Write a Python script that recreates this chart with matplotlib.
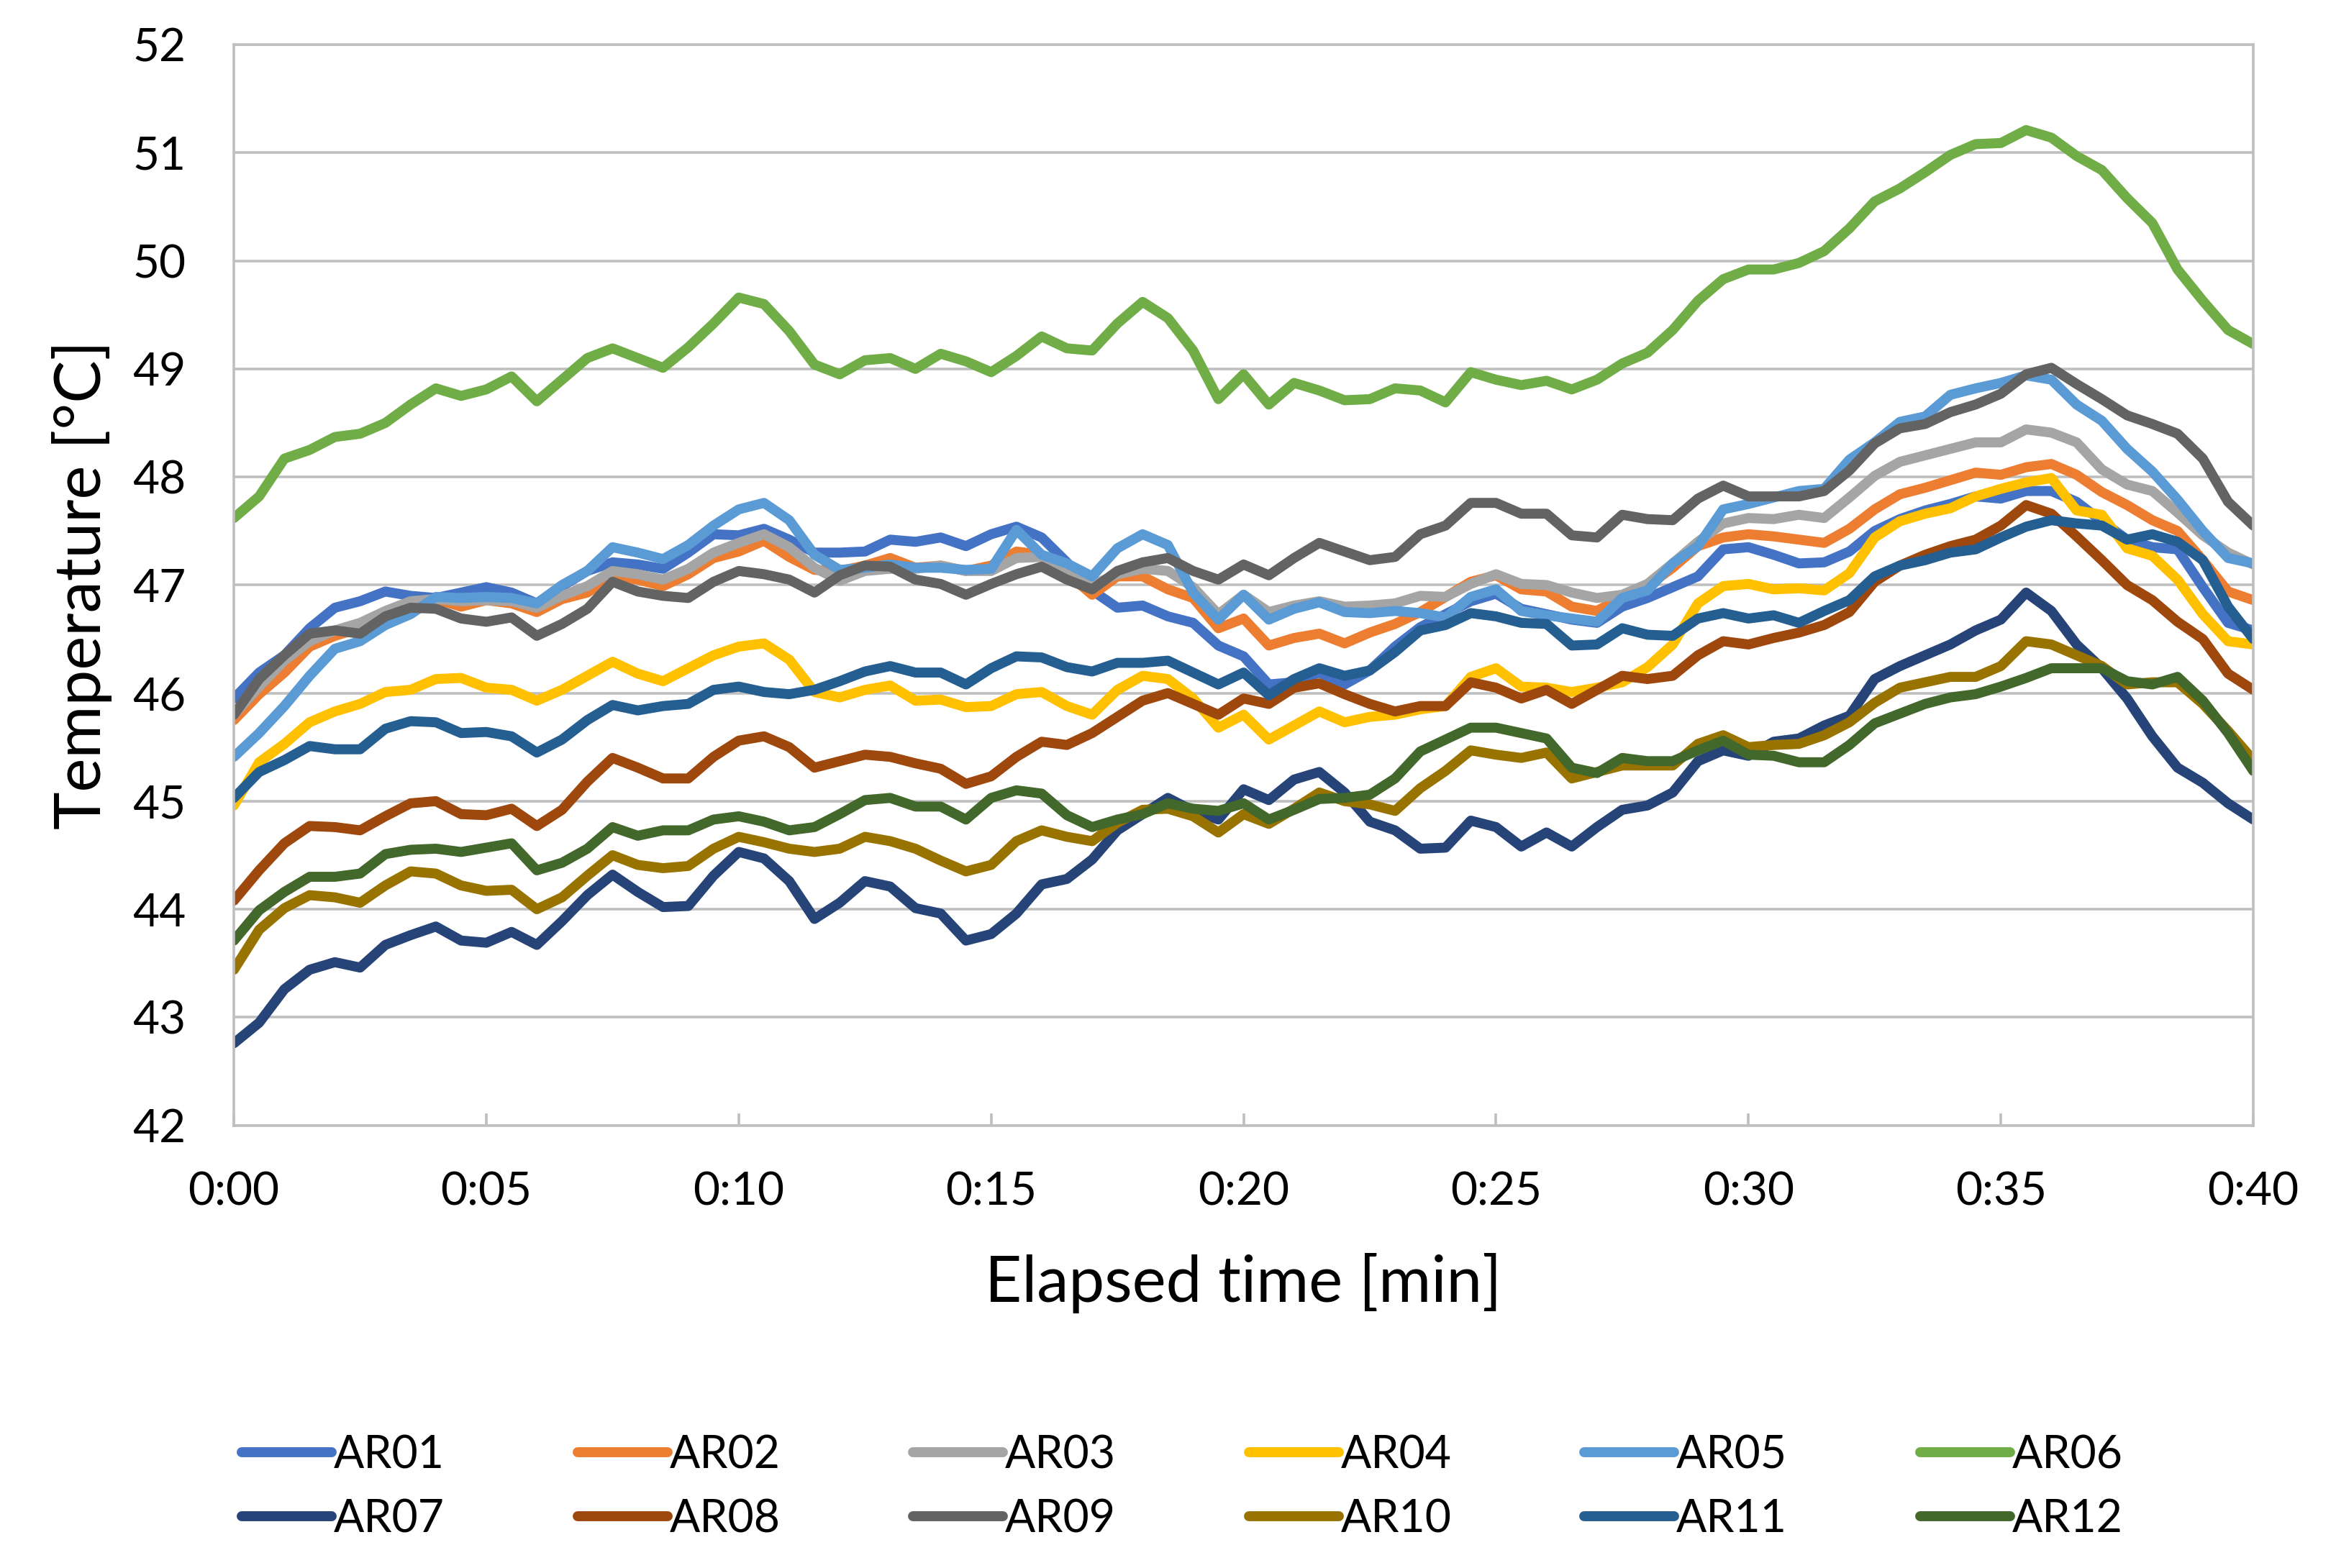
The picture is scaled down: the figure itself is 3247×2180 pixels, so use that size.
import numpy as np
import matplotlib
matplotlib.use("Agg")
import matplotlib.pyplot as plt

plt.rcParams['font.family'] = ['Lato', 'DejaVu Sans']

# temperatures read every 0.5 min from 0:00 to 0:40
ar01 = [45.95, 46.19, 46.35, 46.6, 46.79, 46.85, 46.94, 46.9, 46.88, 46.93,
        46.98, 46.93, 46.83, 46.99, 47.13, 47.21, 47.19, 47.15, 47.3, 47.47,
        47.46, 47.52, 47.42, 47.3, 47.3, 47.31, 47.42, 47.4, 47.44, 47.36,
        47.47, 47.54, 47.44, 47.21, 46.95, 46.79, 46.81, 46.71, 46.65, 46.44,
        46.34, 46.08, 46.1, 46.19, 46.08, 46.21, 46.43, 46.61, 46.73, 46.85,
        46.92, 46.78, 46.73, 46.68, 46.65, 46.8, 46.88, 46.98, 47.08, 47.33,
        47.35, 47.28, 47.2, 47.21, 47.31, 47.5, 47.61, 47.69, 47.75, 47.82,
        47.8, 47.87, 47.87, 47.77, 47.59, 47.42, 47.35, 47.33, 46.98, 46.65,
        46.58]
ar02 = [45.75, 45.99, 46.19, 46.43, 46.53, 46.6, 46.73, 46.83, 46.87, 46.8,
        46.86, 46.83, 46.75, 46.87, 46.93, 47.08, 47.05, 46.99, 47.1, 47.25,
        47.31, 47.41, 47.26, 47.14, 47.13, 47.18, 47.25, 47.16, 47.18, 47.13,
        47.18, 47.31, 47.28, 47.11, 46.91, 47.08, 47.08, 46.96, 46.88, 46.6,
        46.69, 46.44, 46.51, 46.55, 46.46, 46.56, 46.64, 46.75, 46.89, 47.03,
        47.09, 46.96, 46.94, 46.8, 46.76, 46.89, 46.99, 47.16, 47.36, 47.44,
        47.47, 47.45, 47.42, 47.39, 47.52, 47.7, 47.84, 47.9, 47.97, 48.04,
        48.02, 48.09, 48.12, 48.02, 47.86, 47.74, 47.6, 47.5, 47.23, 46.94,
        46.86]
ar03 = [45.8, 46.06, 46.3, 46.48, 46.58, 46.65, 46.76, 46.85, 46.87, 46.85,
        46.86, 46.85, 46.79, 46.9, 46.99, 47.13, 47.1, 47.05, 47.15, 47.3,
        47.39, 47.47, 47.35, 47.16, 47.04, 47.13, 47.15, 47.15, 47.18, 47.13,
        47.13, 47.25, 47.26, 47.11, 47.0, 47.1, 47.15, 47.13, 46.98, 46.73,
        46.91, 46.75, 46.81, 46.85, 46.8, 46.81, 46.83, 46.9, 46.89, 47.01,
        47.1, 47.01, 47.0, 46.93, 46.88, 46.91, 47.01, 47.2, 47.4, 47.57,
        47.62, 47.61, 47.65, 47.62, 47.81, 48.01, 48.14, 48.2, 48.26, 48.32,
        48.32, 48.44, 48.41, 48.32, 48.07, 47.93, 47.87, 47.67, 47.46, 47.3,
        47.19]
ar04 = [44.96, 45.36, 45.53, 45.73, 45.83, 45.9, 46.01, 46.03, 46.13, 46.14,
        46.05, 46.03, 45.93, 46.03, 46.16, 46.29, 46.18, 46.11, 46.23, 46.35,
        46.43, 46.46, 46.31, 46.01, 45.96, 46.03, 46.07, 45.93, 45.94, 45.87,
        45.88, 45.99, 46.01, 45.88, 45.8, 46.03, 46.16, 46.13, 45.95, 45.68,
        45.8, 45.57, 45.7, 45.83, 45.73, 45.78, 45.8, 45.85, 45.88, 46.15,
        46.23, 46.06, 46.05, 46.01, 46.05, 46.1, 46.24, 46.45, 46.83, 46.99,
        47.01, 46.96, 46.97, 46.95, 47.11, 47.44, 47.59, 47.66, 47.71, 47.82,
        47.89, 47.95, 47.99, 47.69, 47.65, 47.34, 47.27, 47.05, 46.73, 46.48,
        46.45]
ar05 = [45.41, 45.63, 45.88, 46.16, 46.41, 46.48, 46.63, 46.73, 46.89, 46.88,
        46.89, 46.88, 46.83, 47.0, 47.13, 47.35, 47.3, 47.24, 47.37, 47.55,
        47.7, 47.76, 47.6, 47.28, 47.14, 47.16, 47.19, 47.16, 47.16, 47.14,
        47.15, 47.51, 47.28, 47.2, 47.08, 47.34, 47.47, 47.37, 46.93, 46.68,
        46.91, 46.68, 46.78, 46.84, 46.75, 46.74, 46.76, 46.74, 46.7, 46.89,
        46.96, 46.76, 46.72, 46.69, 46.66, 46.88, 46.95, 47.2, 47.36, 47.7,
        47.75, 47.81, 47.87, 47.89, 48.16, 48.32, 48.51, 48.56, 48.76, 48.82,
        48.87, 48.94, 48.9, 48.67, 48.52, 48.26, 48.05, 47.79, 47.5, 47.25,
        47.2]
ar06 = [47.62, 47.82, 48.17, 48.25, 48.37, 48.4, 48.5, 48.67, 48.82, 48.75,
        48.81, 48.93, 48.7, 48.9, 49.1, 49.19, 49.1, 49.01, 49.2, 49.42,
        49.66, 49.6, 49.35, 49.04, 48.95, 49.08, 49.1, 49.0, 49.14, 49.07,
        48.97, 49.12, 49.3, 49.19, 49.17, 49.42, 49.62, 49.47, 49.17, 48.72,
        48.95, 48.67, 48.87, 48.8, 48.71, 48.72, 48.82, 48.8, 48.69, 48.97,
        48.9, 48.85, 48.89, 48.81, 48.9, 49.05, 49.15, 49.36, 49.63, 49.83,
        49.92, 49.92, 49.98, 50.09, 50.3, 50.55, 50.67, 50.82, 50.98, 51.08,
        51.09, 51.21, 51.14, 50.97, 50.84, 50.58, 50.35, 49.92, 49.63, 49.36,
        49.23]
ar07 = [42.76, 42.95, 43.26, 43.44, 43.51, 43.46, 43.67, 43.76, 43.84, 43.71,
        43.69, 43.79, 43.67, 43.89, 44.13, 44.32, 44.16, 44.02, 44.03, 44.31,
        44.53, 44.47, 44.26, 43.91, 44.06, 44.26, 44.21, 44.01, 43.96, 43.71,
        43.77, 43.96, 44.23, 44.28, 44.46, 44.73, 44.88, 45.03, 44.91, 44.83,
        45.11, 45.01, 45.2, 45.27, 45.08, 44.81, 44.73, 44.56, 44.57, 44.82,
        44.76, 44.58, 44.71, 44.58, 44.76, 44.92, 44.96, 45.08, 45.37, 45.47,
        45.42, 45.55, 45.58, 45.7, 45.79, 46.13, 46.25, 46.35, 46.45, 46.58,
        46.68, 46.93, 46.76, 46.45, 46.23, 45.95, 45.6, 45.31, 45.17, 44.98,
        44.83]
ar08 = [44.08, 44.36, 44.61, 44.77, 44.76, 44.73, 44.86, 44.98, 45.0, 44.88,
        44.87, 44.93, 44.77, 44.92, 45.18, 45.4, 45.31, 45.21, 45.21, 45.41,
        45.56, 45.6, 45.5, 45.31, 45.37, 45.43, 45.41, 45.35, 45.3, 45.16,
        45.23, 45.41, 45.55, 45.52, 45.63, 45.78, 45.93, 46.0, 45.9, 45.8,
        45.95, 45.9, 46.05, 46.09, 45.99, 45.9, 45.83, 45.88, 45.88, 46.1,
        46.05, 45.95, 46.03, 45.9, 46.03, 46.16, 46.13, 46.16, 46.35, 46.48,
        46.45, 46.51, 46.56, 46.63, 46.75, 47.03, 47.18, 47.28, 47.36, 47.42,
        47.55, 47.74, 47.66, 47.45, 47.23, 47.0, 46.86, 46.66, 46.5, 46.18,
        46.03]
ar09 = [45.8, 46.13, 46.35, 46.55, 46.58, 46.55, 46.71, 46.79, 46.78, 46.69,
        46.66, 46.7, 46.53, 46.64, 46.78, 47.03, 46.94, 46.9, 46.88, 47.03,
        47.13, 47.1, 47.05, 46.93, 47.09, 47.18, 47.17, 47.05, 47.01, 46.91,
        47.01, 47.1, 47.17, 47.05, 46.96, 47.13, 47.21, 47.25, 47.13, 47.05,
        47.19, 47.09, 47.25, 47.39, 47.31, 47.23, 47.26, 47.47, 47.55, 47.76,
        47.76, 47.66, 47.66, 47.46, 47.44, 47.65, 47.61, 47.6, 47.8, 47.92,
        47.82, 47.82, 47.82, 47.87, 48.06, 48.31, 48.45, 48.49, 48.6, 48.67,
        48.77, 48.95, 49.01, 48.86, 48.72, 48.57, 48.49, 48.4, 48.17, 47.77,
        47.55]
ar10 = [43.44, 43.81, 44.01, 44.13, 44.11, 44.06, 44.22, 44.35, 44.33, 44.22,
        44.17, 44.18, 44.0, 44.11, 44.31, 44.5, 44.41, 44.38, 44.4, 44.56,
        44.67, 44.62, 44.56, 44.53, 44.56, 44.67, 44.63, 44.56, 44.45, 44.35,
        44.41, 44.63, 44.73, 44.67, 44.63, 44.8, 44.92, 44.93, 44.86, 44.71,
        44.88, 44.79, 44.93, 45.08, 45.0, 44.97, 44.91, 45.12, 45.28, 45.47,
        45.43, 45.4, 45.45, 45.21, 45.27, 45.33, 45.33, 45.33, 45.53, 45.61,
        45.5, 45.52, 45.53, 45.61, 45.73, 45.91, 46.05, 46.1, 46.15, 46.15,
        46.25, 46.48, 46.45, 46.35, 46.25, 46.08, 46.1, 46.1, 45.9, 45.65,
        45.38]
ar11 = [45.03, 45.27, 45.38, 45.51, 45.48, 45.48, 45.67, 45.74, 45.73, 45.63,
        45.64, 45.6, 45.45, 45.57, 45.75, 45.89, 45.84, 45.88, 45.9, 46.03,
        46.06, 46.01, 45.99, 46.03, 46.11, 46.2, 46.25, 46.19, 46.19, 46.08,
        46.23, 46.34, 46.33, 46.24, 46.2, 46.28, 46.28, 46.3, 46.19, 46.08,
        46.19, 45.98, 46.13, 46.23, 46.16, 46.21, 46.38, 46.58, 46.63, 46.74,
        46.71, 46.65, 46.64, 46.44, 46.45, 46.6, 46.54, 46.53, 46.69, 46.74,
        46.69, 46.72, 46.65, 46.76, 46.86, 47.08, 47.18, 47.23, 47.3, 47.33,
        47.44, 47.54, 47.6, 47.57, 47.55, 47.42, 47.47, 47.4, 47.23, 46.8,
        46.5]
ar12 = [43.71, 43.99, 44.16, 44.3, 44.3, 44.33, 44.51, 44.55, 44.56, 44.53,
        44.57, 44.61, 44.36, 44.43, 44.56, 44.76, 44.68, 44.73, 44.73, 44.83,
        44.86, 44.81, 44.73, 44.76, 44.88, 45.01, 45.03, 44.95, 44.95, 44.83,
        45.03, 45.1, 45.07, 44.87, 44.76, 44.83, 44.88, 44.98, 44.93, 44.91,
        44.98, 44.83, 44.92, 45.02, 45.03, 45.06, 45.21, 45.46, 45.57, 45.68,
        45.68, 45.63, 45.58, 45.31, 45.26, 45.4, 45.37, 45.37, 45.47, 45.56,
        45.43, 45.42, 45.36, 45.36, 45.52, 45.72, 45.81, 45.9, 45.96, 45.99,
        46.06, 46.14, 46.23, 46.23, 46.23, 46.11, 46.08, 46.15, 45.93, 45.63,
        45.28]

names = ['AR01', 'AR02', 'AR03', 'AR04', 'AR05', 'AR06',
         'AR07', 'AR08', 'AR09', 'AR10', 'AR11', 'AR12']
series = [ar01, ar02, ar03, ar04, ar05, ar06, ar07, ar08, ar09, ar10, ar11, ar12]
colors = ['#4472C4', '#ED7D31', '#A5A5A5', '#FFC000', '#5B9BD5', '#70AD47',
          '#264478', '#9E480E', '#636363', '#997300', '#255E91', '#43682B']

xticks = [0, 5, 10, 15, 20, 25, 30, 35, 40]
xticklabels = ['0:00', '0:05', '0:10', '0:15', '0:20', '0:25', '0:30', '0:35', '0:40']

fig = plt.figure(figsize=(16.24, 10.9), dpi=200)
ax = fig.add_axes([0.1001, 0.2823, 0.8642, 0.6892])

lines = []
for name, vals, c in zip(names, series, colors):
    t = np.arange(len(vals)) * 0.5
    ln, = ax.plot(t, vals, color=c, lw=5.0, label=name,
                  solid_joinstyle='round', solid_capstyle='round')
    lines.append(ln)

ax.set_xlim(0, 40)
ax.set_ylim(42, 52)
ax.set_yticks(range(42, 53))
ax.set_xticks(xticks)
ax.set_xticklabels(xticklabels)

gridc = '#BFBFBF'
ax.grid(axis='y', color=gridc, lw=1.3)
ax.set_axisbelow(True)
for s in ax.spines.values():
    s.set_color(gridc)
    s.set_linewidth(1.3)

ax.tick_params(axis='y', length=0, pad=24, labelsize=23)
ax.tick_params(axis='x', direction='in', length=6, width=1.3, color=gridc,
               pad=23, labelsize=23)

ax.set_xlabel('Elapsed time [min]', fontsize=32, labelpad=20)
ax.set_ylabel('Temperature [°C]', fontsize=32, labelpad=10)

# legend row-wise: AR01..AR06 on top, AR07..AR12 below
order = []
for i in range(6):
    order += [i, i + 6]
fig.legend([lines[i] for i in order], [names[i] for i in order],
           loc='center', bbox_to_anchor=(0.506, 0.0515), ncol=6,
           frameon=False, fontsize=22.5, handlelength=2.0, handletextpad=0.05,
           columnspacing=2.95, labelspacing=0.5)

fig.savefig('out.png', dpi=200)
